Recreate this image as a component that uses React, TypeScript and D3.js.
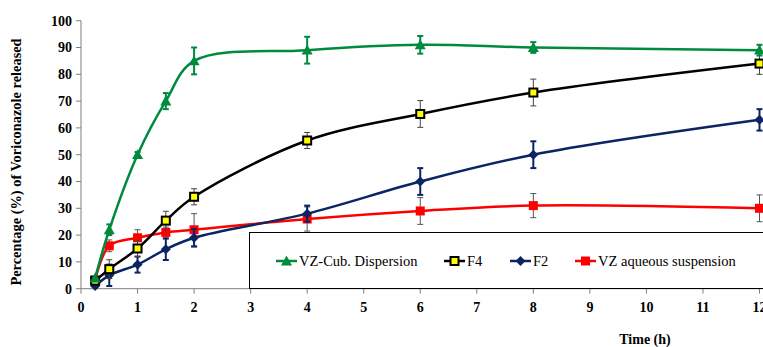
import React from "react";
import * as d3 from "d3";

const times = [0.25, 0.5, 1, 1.5, 2, 4, 6, 8, 12];

const cubValues = [4, 22, 50, 70, 85, 89, 91, 90, 89];
const cubErrors = [0, 2, 1, 3, 5, 5, 3.3, 2, 2];

const f4Values = [3, 7.3, 15, 25.4, 34.3, 55.3, 65.2, 73.2, 84];
const f4Errors = [0, 3.5, 3, 3.5, 3, 3, 5, 5, 4];

const f2Values = [1, 5, 9, 14.7, 19, 28, 40, 50, 63];
const f2Errors = [0, 4, 3, 4, 3.3, 3, 5, 5, 4];

const suspValues = [3.2, 16, 19, 21, 22, 26, 29, 31, 30];
const suspErrors = [0, 2.2, 3, 2, 6, 4.5, 5, 4.5, 5];

const xTicks = [0, 1, 2, 3, 4, 5, 6, 7, 8, 9, 10, 11, 12];
const yTicks = [0, 10, 20, 30, 40, 50, 60, 70, 80, 90, 100];

const W = 763;
const H = 347;
const FONT = "'Liberation Serif', 'Times New Roman', serif";

const x = d3.scaleLinear().domain([0, 12]).range([81, 759.5]);
const y = d3.scaleLinear().domain([0, 100]).range([288.7, 20.7]);

type Series = {
  name: string;
  values: number[];
  errors: number[];
  color: string;
  marker: "triangle" | "square" | "diamond" | "redsquare";
  errColor: string;
  errWidth: number;
};

// drawn back to front
const series: Series[] = [
  { name: "VZ aqueous suspension", values: suspValues, errors: suspErrors, color: "#ff0000", marker: "redsquare", errColor: "#555", errWidth: 1 },
  { name: "F2", values: f2Values, errors: f2Errors, color: "#0b2463", marker: "diamond", errColor: "#0b2463", errWidth: 2 },
  { name: "F4", values: f4Values, errors: f4Errors, color: "#000000", marker: "square", errColor: "#444", errWidth: 1 },
  { name: "VZ-Cub. Dispersion", values: cubValues, errors: cubErrors, color: "#008a3e", marker: "triangle", errColor: "#008a3e", errWidth: 2 },
];

const legendOrder = ["VZ-Cub. Dispersion", "F4", "F2", "VZ aqueous suspension"];

function Marker({ kind, cx, cy, color }: { kind: Series["marker"]; cx: number; cy: number; color: string }) {
  if (kind === "triangle") {
    const s = 5.5;
    return <path d={`M${cx},${cy - s}L${cx + s},${cy + s * 0.8}L${cx - s},${cy + s * 0.8}Z`} fill={color} />;
  }
  if (kind === "square") {
    return <rect x={cx - 4} y={cy - 4} width={8} height={8} fill="#ffff00" stroke="#000" strokeWidth={2} />;
  }
  if (kind === "diamond") {
    const s = 5;
    return <path d={`M${cx},${cy - s}L${cx + s},${cy}L${cx},${cy + s}L${cx - s},${cy}Z`} fill={color} />;
  }
  return <rect x={cx - 4.5} y={cy - 4.5} width={9} height={9} fill={color} />;
}

export default function App() {
  const line = d3
    .line<number>()
    .x((_, i) => x(times[i]))
    .y((v) => y(v))
    .curve(d3.curveCatmullRom.alpha(0.5));

  const legendX = [276, 444, 510, 575];

  return (
    <svg width={W} height={H} style={{ position: "absolute", left: 0, top: 0, background: "#fff" }} fontFamily={FONT}>
      {/* axes */}
      <line x1={x(0)} x2={W} y1={y(0)} y2={y(0)} stroke="#7f7f7f" />
      <line x1={x(0)} x2={x(0)} y1={y(0)} y2={y(100)} stroke="#7f7f7f" />
      {yTicks.map((t) => (
        <g key={"y" + t}>
          <line x1={x(0) - 5} x2={x(0)} y1={y(t)} y2={y(t)} stroke="#7f7f7f" />
          <text x={x(0) - 9} y={y(t)} dy="0.35em" textAnchor="end" fontSize={14} fontWeight="bold">
            {t}
          </text>
        </g>
      ))}
      {xTicks.map((t) => (
        <g key={"x" + t}>
          <line x1={x(t)} x2={x(t)} y1={y(0)} y2={y(0) + 5} stroke="#7f7f7f" />
          <text x={x(t)} y={312} textAnchor="middle" fontSize={14} fontWeight="bold">
            {t}
          </text>
        </g>
      ))}
      <text x={645} y={344} textAnchor="middle" fontSize={14} fontWeight="bold">
        Time (h)
      </text>
      <text
        transform={`translate(21, ${162}) rotate(-90)`}
        textAnchor="middle"
        fontSize={14.4}
        fontWeight="bold"
      >
        Percentage (%) of Voriconazole released
      </text>

      {/* series */}
      {series.map((s) => (
        <g key={s.name}>
          <path d={line(s.values) || ""} fill="none" stroke={s.color} strokeWidth={2.5} />
          {s.values.map((v, i) =>
            s.errors[i] > 0 ? (
              <g key={i} stroke={s.errColor} strokeWidth={s.errWidth}>
                <line x1={x(times[i])} x2={x(times[i])} y1={y(v - s.errors[i])} y2={y(v + s.errors[i])} />
                <line x1={x(times[i]) - 3} x2={x(times[i]) + 3} y1={y(v - s.errors[i])} y2={y(v - s.errors[i])} />
                <line x1={x(times[i]) - 3} x2={x(times[i]) + 3} y1={y(v + s.errors[i])} y2={y(v + s.errors[i])} />
              </g>
            ) : null
          )}
          {s.values.map((v, i) => (
            <Marker key={"m" + i} kind={s.marker} cx={x(times[i])} cy={y(v)} color={s.color} />
          ))}
        </g>
      ))}

      {/* legend */}
      <rect x={249.5} y={232.5} width={520} height={56} fill="#fff" stroke="#000" />
      {legendOrder.map((name, i) => {
        const s = series.find((d) => d.name === name)!;
        const lx = legendX[i];
        return (
          <g key={name}>
            <line x1={lx} x2={lx + 21} y1={261} y2={261} stroke={s.color} strokeWidth={2.5} />
            <Marker kind={s.marker} cx={lx + 10.5} cy={261} color={s.color} />
            <text x={lx + 23} y={261} dy="0.35em" fontSize={14.5}>
              {name}
            </text>
          </g>
        );
      })}
    </svg>
  );
}
